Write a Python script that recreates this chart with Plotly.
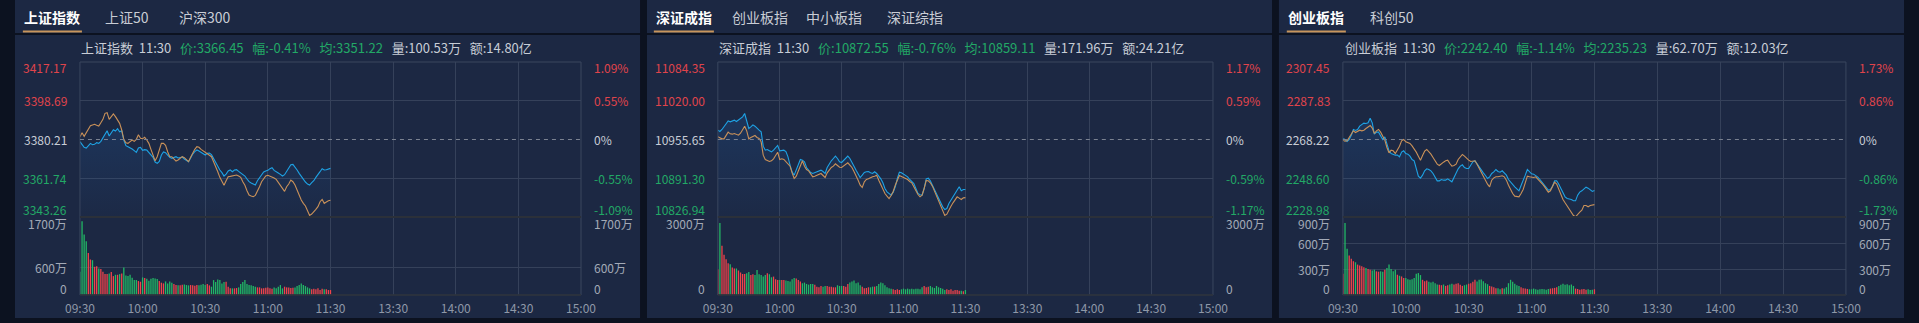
import plotly.graph_objects as go

W, H = 1919, 323
FONT = "Noto Sans CJK SC"

# ---------------- data ----------------
minutes = list(range(121))
time_ticks = [0, 30, 60, 90, 120, 150, 180, 210, 240]
time_labels = ["09:30", "10:00", "10:30", "11:00", "11:30", "13:30", "14:00", "14:30", "15:00"]

# 上证指数
sh_tabs = ["上证指数", "上证50", "沪深300"]
sh_prev_close = 3380.21
sh_price = [
    3379.18, 3378.06, 3376.47, 3376.15, 3377.43, 3378.38, 3377.74, 3377.90, 3378.70, 3378.38,
    3379.33, 3380.92, 3382.83, 3384.42, 3381.88, 3383.47, 3384.90, 3384.26, 3385.38, 3383.94,
    3384.42, 3379.97, 3377.27, 3376.79, 3376.31, 3375.68, 3374.88, 3374.09, 3376.15, 3376.47,
    3375.04, 3375.36, 3375.20, 3373.93, 3372.81, 3371.70, 3369.48, 3368.84, 3369.79, 3372.81,
    3374.25, 3373.93, 3372.81, 3371.70, 3371.22, 3371.70, 3372.02, 3371.38, 3371.70, 3371.86,
    3370.91, 3370.27, 3369.63, 3371.38, 3373.29, 3374.40, 3375.20, 3374.72, 3374.09, 3373.29,
    3372.81, 3373.61, 3373.77, 3372.97, 3371.07, 3369.16, 3367.57, 3365.66, 3364.39, 3362.80,
    3363.75, 3365.18, 3365.66, 3364.86, 3365.66, 3365.82, 3365.02, 3364.39, 3363.59, 3362.80,
    3361.37, 3360.09, 3359.46, 3358.98, 3358.50, 3360.57, 3362.16, 3363.75, 3364.71, 3365.18,
    3365.50, 3366.30, 3366.77, 3365.50, 3364.71, 3364.23, 3363.59, 3362.80, 3363.43, 3364.86,
    3366.30, 3368.20, 3368.36, 3367.25, 3365.66, 3364.07, 3362.48, 3360.89, 3359.94, 3358.98,
    3358.50, 3359.62, 3360.57, 3362.16, 3363.27, 3364.86, 3366.30, 3365.66, 3365.82, 3366.30,
    3366.45]
sh_avg = [
    3381.56, 3383.47, 3381.72, 3383.47, 3385.06, 3386.81, 3387.13, 3387.44, 3386.97, 3386.65,
    3388.24, 3389.83, 3392.69, 3393.01, 3389.83, 3391.10, 3392.37, 3391.10, 3389.51, 3387.92,
    3384.74, 3380.29, 3378.70, 3378.38, 3379.18, 3379.97, 3379.33, 3380.29, 3382.51, 3380.76,
    3380.61, 3381.24, 3379.97, 3378.38, 3375.52, 3372.81, 3370.11, 3372.02, 3375.20, 3378.38,
    3378.38, 3377.43, 3374.40, 3372.02, 3372.02, 3370.75, 3369.95, 3370.43, 3371.22, 3372.02,
    3371.54, 3370.43, 3369.63, 3371.70, 3373.93, 3375.52, 3376.79, 3376.47, 3375.52, 3374.88,
    3373.93, 3373.29, 3372.66, 3372.02, 3369.63, 3367.57, 3364.86, 3362.16, 3360.09, 3358.35,
    3360.57, 3362.48, 3362.64, 3362.80, 3362.96, 3363.27, 3362.80, 3362.16, 3360.09, 3358.35,
    3355.80, 3353.73, 3353.26, 3352.94, 3353.58, 3355.48, 3357.71, 3360.09, 3361.68, 3362.80,
    3363.12, 3362.80, 3362.48, 3361.84, 3361.21, 3359.62, 3358.50, 3356.91, 3355.48, 3357.71,
    3358.98, 3360.89, 3360.09, 3358.50, 3356.12, 3353.26, 3351.35, 3349.76, 3348.49, 3346.26,
    3344.04, 3344.67, 3345.63, 3346.90, 3348.17, 3350.55, 3351.67, 3349.76, 3350.40, 3351.03,
    3351.22]
sh_vol = [
    506, 1605, 1316, 1171, 918, 774, 759, 615, 629, 578,
    564, 506, 455, 455, 470, 499, 412, 441, 441, 455,
    470, 600, 427, 412, 441, 376, 325, 325, 304, 289,
    383, 369, 354, 311, 354, 369, 361, 347, 304, 268,
    253, 296, 253, 296, 268, 239, 217, 210, 210, 224,
    231, 217, 210, 217, 210, 202, 217, 210, 224, 239,
    217, 239, 210, 181, 325, 282, 340, 325, 253, 282,
    289, 181, 145, 145, 145, 152, 166, 239, 282, 325,
    239, 217, 210, 195, 181, 166, 166, 145, 145, 159,
    166, 145, 137, 166, 145, 181, 217, 145, 181, 166,
    166, 152, 159, 166, 195, 217, 253, 217, 195, 166,
    145, 123, 137, 123, 145, 108, 137, 123, 123, 108, 108]
sh_price_ticks = [3417.17, 3398.69, 3380.21, 3361.74, 3343.26]
sh_pct_labels = ["1.09%", "0.55%", "0%", "-0.55%", "-1.09%"]
sh_vol_ticks = [0, 600, 1700]
sh_vol_labels = ["0", "600万", "1700万"]
sh_info = ["上证指数", "11:30", "3366.45", "-0.41%", "3351.22", "100.53万", "14.80亿"]

# 深证成指
sz_tabs = ["深证成指", "创业板指", "中小板指", "深证综指"]
sz_prev_close = 10955.65
sz_price = [
    10971.15, 10968.94, 10972.26, 10977.79, 10983.33, 10986.65, 10984.99, 10986.10, 10987.76, 10985.54,
    10987.76, 10989.97, 10993.29, 10998.83, 10986.65, 10973.92, 10976.69, 10980.01, 10977.79, 10973.92,
    10971.15, 10968.38, 10944.58, 10937.93, 10939.04, 10936.83, 10935.17, 10937.93, 10942.36, 10945.69,
    10936.83, 10936.83, 10937.93, 10935.72, 10926.86, 10913.02, 10901.95, 10896.41, 10905.83, 10915.79,
    10922.43, 10921.33, 10918.56, 10909.15, 10904.72, 10900.84, 10899.18, 10900.29, 10901.95, 10903.06,
    10904.72, 10902.50, 10899.18, 10909.15, 10915.79, 10920.22, 10924.09, 10927.97, 10924.09, 10918.56,
    10917.45, 10921.33, 10925.76, 10927.97, 10924.09, 10918.56, 10911.36, 10904.72, 10898.08, 10892.54,
    10896.41, 10900.84, 10901.95, 10902.50, 10900.29, 10899.18, 10901.95, 10899.18, 10894.75, 10890.33,
    10883.68, 10874.27, 10868.73, 10865.97, 10863.20, 10868.18, 10877.04, 10890.88, 10901.40, 10900.29,
    10898.08, 10896.41, 10893.65, 10889.22, 10885.90, 10882.57, 10874.27, 10865.97, 10863.75, 10863.20,
    10874.27, 10890.33, 10891.43, 10887.00, 10879.81, 10872.61, 10865.97, 10859.32, 10850.47, 10843.82,
    10839.39, 10841.05, 10849.36, 10854.89, 10861.54, 10867.07, 10873.72, 10877.04, 10870.40, 10872.61,
    10872.55]
sz_avg = [
    10960.08, 10958.42, 10956.76, 10956.76, 10963.40, 10967.83, 10965.06, 10964.51, 10965.61, 10964.51,
    10962.85, 10966.17, 10971.15, 10977.79, 10970.04, 10956.76, 10958.97, 10961.19, 10962.29, 10958.97,
    10957.31, 10951.77, 10929.63, 10922.43, 10920.77, 10919.11, 10920.22, 10923.54, 10929.08, 10934.61,
    10922.43, 10923.54, 10922.43, 10919.11, 10915.24, 10911.36, 10900.29, 10890.88, 10894.75, 10903.61,
    10913.02, 10920.22, 10911.36, 10905.83, 10903.61, 10898.63, 10893.65, 10894.75, 10896.41, 10898.08,
    10899.18, 10895.86, 10892.54, 10900.29, 10905.83, 10909.15, 10911.36, 10915.24, 10912.47, 10909.70,
    10909.15, 10911.36, 10914.13, 10916.90, 10913.02, 10909.15, 10902.50, 10895.86, 10888.11, 10879.81,
    10875.93, 10885.34, 10889.22, 10890.33, 10892.54, 10893.65, 10894.75, 10896.41, 10888.11, 10879.81,
    10872.61, 10865.97, 10861.54, 10857.66, 10862.65, 10869.29, 10879.81, 10889.22, 10895.86, 10894.20,
    10892.54, 10891.43, 10889.22, 10885.90, 10883.68, 10877.04, 10870.40, 10864.31, 10860.43, 10863.20,
    10874.27, 10887.56, 10887.00, 10883.68, 10878.15, 10870.40, 10861.54, 10854.89, 10846.59, 10838.29,
    10829.43, 10831.64, 10839.39, 10844.93, 10850.47, 10856.00, 10860.43, 10858.22, 10856.00, 10858.77,
    10859.11]
sz_vol = [
    992, 2769, 1893, 1546, 1378, 1224, 1185, 1056, 1017, 1017,
    940, 863, 811, 811, 837, 889, 773, 798, 773, 966,
    798, 773, 708, 773, 837, 798, 683, 708, 605, 580,
    580, 580, 580, 554, 541, 515, 605, 657, 631, 580,
    515, 451, 477, 425, 399, 425, 425, 399, 322, 296,
    348, 322, 348, 348, 322, 322, 296, 296, 374, 348,
    348, 348, 322, 425, 477, 515, 554, 451, 477, 374,
    322, 258, 270, 296, 296, 322, 322, 348, 425, 477,
    451, 374, 296, 258, 245, 219, 193, 219, 193, 219,
    245, 219, 245, 219, 245, 219, 245, 245, 219, 296,
    348, 296, 322, 348, 296, 270, 348, 296, 270, 245,
    193, 219, 193, 219, 167, 193, 193, 167, 167, 142, 193]
sz_price_ticks = [11084.35, 11020.00, 10955.65, 10891.30, 10826.94]
sz_pct_labels = ["1.17%", "0.59%", "0%", "-0.59%", "-1.17%"]
sz_vol_ticks = [0, 3000]
sz_vol_labels = ["0", "3000万"]
sz_info = ["深证成指", "11:30", "10872.55", "-0.76%", "10859.11", "171.96万", "24.21亿"]

# 创业板指
cyb_tabs = ["创业板指", "科创50"]
cyb_prev_close = 2268.22
cyb_price = [
    2268.73, 2268.22, 2267.21, 2268.22, 2270.41, 2273.28, 2272.78, 2273.28, 2274.97, 2275.65,
    2276.49, 2276.32, 2276.66, 2279.02, 2276.66, 2270.92, 2271.93, 2271.93, 2269.91, 2268.22,
    2269.57, 2265.86, 2262.48, 2261.13, 2260.63, 2260.29, 2260.29, 2259.44, 2261.81, 2262.48,
    2261.13, 2260.79, 2259.78, 2258.09, 2257.42, 2253.54, 2249.66, 2248.64, 2250.16, 2252.36,
    2253.37, 2253.03, 2252.36, 2251.01, 2248.98, 2247.29, 2247.29, 2247.97, 2247.63, 2247.63,
    2248.31, 2247.63, 2246.79, 2248.98, 2251.68, 2253.37, 2254.72, 2255.39, 2254.04, 2253.54,
    2253.54, 2255.23, 2256.91, 2257.42, 2255.73, 2254.38, 2252.69, 2251.34, 2249.99, 2248.48,
    2249.32, 2251.01, 2251.85, 2253.03, 2252.02, 2251.68, 2252.36, 2251.34, 2250.16, 2247.97,
    2246.62, 2245.27, 2244.26, 2243.24, 2242.23, 2244.93, 2247.29, 2250.16, 2253.03, 2251.68,
    2250.84, 2250.67, 2249.99, 2249.15, 2247.97, 2246.62, 2244.93, 2243.58, 2242.57, 2242.91,
    2244.59, 2247.29, 2247.29, 2245.61, 2243.41, 2240.88, 2239.19, 2238.35, 2238.18, 2237.84,
    2237.17, 2237.17, 2240.04, 2241.56, 2242.23, 2243.24, 2244.09, 2243.58, 2242.57, 2241.90,
    2242.40]
cyb_avg = [
    2267.88, 2267.38, 2267.54, 2269.23, 2271.26, 2272.61, 2271.76, 2272.27, 2272.95, 2272.61,
    2272.95, 2273.79, 2274.63, 2275.31, 2273.96, 2271.26, 2272.61, 2273.28, 2271.93, 2269.91,
    2267.88, 2264.17, 2261.47, 2262.82, 2262.48, 2261.13, 2262.82, 2264.84, 2267.54, 2268.22,
    2267.04, 2266.70, 2266.19, 2265.01, 2263.66, 2261.81, 2259.78, 2257.76, 2260.12, 2262.31,
    2263.16, 2262.14, 2260.79, 2259.11, 2257.42, 2255.73, 2255.06, 2256.07, 2256.74, 2257.42,
    2257.76, 2256.07, 2254.72, 2255.06, 2255.73, 2258.09, 2259.44, 2260.63, 2259.78, 2258.60,
    2257.76, 2257.08, 2257.08, 2257.42, 2255.73, 2253.54, 2251.85, 2249.66, 2247.29, 2245.61,
    2244.26, 2247.63, 2248.81, 2249.32, 2249.32, 2249.66, 2249.83, 2249.32, 2247.63, 2245.10,
    2242.57, 2240.88, 2239.53, 2239.36, 2239.19, 2240.88, 2242.91, 2246.28, 2249.66, 2249.32,
    2248.98, 2248.98, 2249.32, 2248.31, 2247.29, 2245.94, 2244.59, 2243.24, 2241.56, 2242.23,
    2244.59, 2246.62, 2245.61, 2242.91, 2240.21, 2237.84, 2236.16, 2234.47, 2233.12, 2230.76,
    2229.74, 2229.07, 2230.42, 2231.43, 2232.44, 2234.81, 2234.81, 2234.13, 2234.81, 2235.14,
    2235.23]
cyb_vol = [
    245, 830, 534, 456, 417, 390, 378, 351, 339, 331,
    319, 312, 300, 292, 284, 292, 273, 269, 273, 269,
    292, 312, 351, 300, 273, 292, 234, 222, 214, 195,
    195, 183, 175, 183, 195, 245, 253, 230, 175, 160,
    168, 152, 144, 152, 136, 121, 117, 113, 121, 105,
    113, 121, 129, 121, 129, 136, 117, 105, 113, 121,
    129, 136, 152, 175, 156, 175, 180, 160, 136, 125,
    105, 97, 90, 78, 78, 66, 78, 74, 90, 136,
    175, 152, 129, 113, 105, 90, 78, 74, 70, 66,
    66, 74, 66, 62, 66, 70, 66, 62, 70, 74,
    78, 82, 90, 105, 117, 129, 117, 125, 113, 121,
    105, 74, 70, 62, 66, 70, 62, 66, 58, 62, 66]
cyb_price_ticks = [2307.45, 2287.83, 2268.22, 2248.60, 2228.98]
cyb_pct_labels = ["1.73%", "0.86%", "0%", "-0.86%", "-1.73%"]
cyb_vol_ticks = [0, 300, 600, 900]
cyb_vol_labels = ["0", "300万", "600万", "900万"]
cyb_info = ["创业板指", "11:30", "2242.40", "-1.14%", "2235.23", "62.70万", "12.03亿"]

# ---------------- style ----------------
BG_PAGE = "#0c1220"
BG_PANEL = "#1c2843"
GRID = "#35415a"
FRAME = "#3a465f"
SEP = "#2b3039"
DASH = "#7b8291"
BLUE = "#1ea2e4"
ORANGE = "#c99159"
RED_BAR = "#f0444b"
GREEN_BAR = "#22b866"
RED_TXT = "#e0444b"
GREEN_TXT = "#22a866"
GRAY_TXT = "#c8cdd6"
AXIS_TXT = "#a3aab7"
TIME_TXT = "#8f98a8"
TAB_TXT = "#c9cdd5"
UNDERLINE = "#c8955c"

panels = [
    dict(tabs=sh_tabs, prev=sh_prev_close, price=sh_price, avg=sh_avg, vol=sh_vol,
         pticks=sh_price_ticks, pct=sh_pct_labels, vticks=sh_vol_ticks, vlabels=sh_vol_labels, info=sh_info,
         panel=(0, 635), plot=(66, 575), tabx=[37.5, 114, 193.5], uline=(8, 68), infox=65),
    dict(tabs=sz_tabs, prev=sz_prev_close, price=sz_price, avg=sz_avg, vol=sz_vol,
         pticks=sz_price_ticks, pct=sz_pct_labels, vticks=sz_vol_ticks, vlabels=sz_vol_labels, info=sz_info,
         panel=(642, 1277), plot=(714, 1217), tabx=[679.5, 756.5, 832.5, 914.5], uline=(649, 710), infox=713),
    dict(tabs=cyb_tabs, prev=cyb_prev_close, price=cyb_price, avg=cyb_avg, vol=cyb_vol,
         pticks=cyb_price_ticks, pct=cyb_pct_labels, vticks=cyb_vol_ticks, vlabels=cyb_vol_labels, info=cyb_info,
         panel=(1284, 1919), plot=(1349, 1860), tabx=[1322, 1399], uline=(1292, 1352), infox=1349),
]

PRICE_TOP, PRICE_BOT, VOL_BOT = 62, 217, 295


def fx(px):
    return px / W


def fy(py):
    return 1 - py / H


fig = go.Figure()
shapes, annotations = [], []
layout_axes = {}

for i, p in enumerate(panels):
    kp, kv = 2 * i + 1, 2 * i + 2
    xp = "x" if kp == 1 else f"x{kp}"
    yp = "y" if kp == 1 else f"y{kp}"
    xv, yv = f"x{kv}", f"y{kv}"
    xname_p = "xaxis" if kp == 1 else f"xaxis{kp}"
    yname_p = "yaxis" if kp == 1 else f"yaxis{kp}"
    xname_v, yname_v = f"xaxis{kv}", f"yaxis{kv}"
    x0, x1 = p["plot"]
    dom_x = [fx(x0), fx(x1)]
    pmax, pmin = p["pticks"][0], p["pticks"][-1]

    layout_axes[xname_p] = dict(domain=dom_x, anchor=yp, range=[0, 240], tickvals=time_ticks,
                                showticklabels=False, showgrid=True, gridcolor=GRID, gridwidth=1,
                                zeroline=False, showline=False, ticks="", fixedrange=True)
    layout_axes[yname_p] = dict(domain=[fy(PRICE_BOT), fy(PRICE_TOP)], anchor=xp, range=[pmin, pmax],
                                tickvals=[p["pticks"][1], p["pticks"][3]], showticklabels=False,
                                showgrid=True, gridcolor=GRID, zeroline=False, showline=False,
                                ticks="", fixedrange=True)
    layout_axes[xname_v] = dict(domain=dom_x, anchor=yv, range=[0, 240], tickvals=time_ticks,
                                ticktext=time_labels, showticklabels=True,
                                tickfont=dict(family=FONT, size=12, color=TIME_TXT),
                                showgrid=True, gridcolor=GRID, zeroline=False, showline=False,
                                ticks="", ticklabelstandoff=5, fixedrange=True)
    layout_axes[yname_v] = dict(domain=[fy(VOL_BOT), fy(PRICE_BOT)], anchor=xv,
                                range=[0, p["vticks"][-1]], tickvals=p["vticks"][1:-1],
                                showticklabels=False, showgrid=True, gridcolor=GRID,
                                zeroline=False, showline=False, ticks="", fixedrange=True)

    # baseline for the area fill
    fig.add_trace(go.Scatter(x=[minutes[0], minutes[-1]], y=[pmin, pmin], mode="lines",
                             line=dict(width=0, color="rgba(0,0,0,0)"), xaxis=xp, yaxis=yp,
                             hoverinfo="skip", showlegend=False))
    fig.add_trace(go.Scatter(x=minutes, y=p["price"], mode="lines", xaxis=xp, yaxis=yp,
                             line=dict(color=BLUE, width=1.1), fill="tonexty",
                             fillgradient=dict(type="vertical",
                                               colorscale=[[0, "rgba(35,115,205,0.02)"],
                                                           [1, "rgba(35,115,205,0.26)"]],
                                               start=pmin, stop=pmax),
                             hoverinfo="skip", showlegend=False))
    fig.add_trace(go.Scatter(x=minutes, y=p["avg"], mode="lines", xaxis=xp, yaxis=yp,
                             line=dict(color=ORANGE, width=1.1), hoverinfo="skip", showlegend=False))

    # volume bars: red when price rose vs previous minute, green when it fell
    prevs = [p["prev"]] + p["price"][:-1]
    colors = [RED_BAR if c >= q else GREEN_BAR for c, q in zip(p["price"], prevs)]
    fig.add_trace(go.Bar(x=minutes, y=p["vol"], xaxis=xv, yaxis=yv, width=0.62,
                         marker=dict(color=colors, line=dict(width=0)),
                         hoverinfo="skip", showlegend=False))

    # panel backgrounds
    px0, px1 = p["panel"]
    shapes.append(dict(type="rect", xref="paper", yref="paper", x0=fx(px0), x1=fx(px1),
                       y0=fy(318), y1=fy(0), fillcolor=BG_PANEL, line=dict(width=0), layer="below"))
    shapes.append(dict(type="rect", xref="paper", yref="paper", x0=fx(px0), x1=fx(px1),
                       y0=fy(35), y1=fy(33), fillcolor=BG_PAGE, line=dict(width=0), layer="below"))
    # tab underline
    u0, u1 = p["uline"]
    shapes.append(dict(type="rect", xref="paper", yref="paper", x0=fx(u0), x1=fx(u1),
                       y0=fy(32.5), y1=fy(30.5), fillcolor=UNDERLINE, line=dict(width=0)))
    # frames
    shapes.append(dict(type="rect", xref="paper", yref="paper", x0=fx(x0), x1=fx(x1),
                       y0=fy(PRICE_BOT), y1=fy(PRICE_TOP), line=dict(color=FRAME, width=1)))
    shapes.append(dict(type="rect", xref="paper", yref="paper", x0=fx(x0), x1=fx(x1),
                       y0=fy(VOL_BOT), y1=fy(PRICE_BOT), line=dict(color=FRAME, width=1)))
    shapes.append(dict(type="line", xref="paper", yref="paper", x0=fx(x0), x1=fx(x1),
                       y0=fy(PRICE_BOT), y1=fy(PRICE_BOT), line=dict(color=SEP, width=2)))
    shapes.append(dict(type="line", xref="paper", yref="paper", x0=fx(x0), x1=fx(x1),
                       y0=fy(VOL_BOT), y1=fy(VOL_BOT), line=dict(color=SEP, width=1.5)))
    # previous close dashed line
    shapes.append(dict(type="line", xref=f"{xp} domain", yref=yp, x0=0, x1=1,
                       y0=p["prev"], y1=p["prev"], line=dict(color=DASH, width=1, dash="4px,4px")))

    # tabs
    for j, (t, cx) in enumerate(zip(p["tabs"], p["tabx"])):
        annotations.append(dict(text=f"<b>{t}</b>" if j == 0 else t, xref="paper", yref="paper",
                                x=fx(cx), y=fy(17), xanchor="center", yanchor="middle", showarrow=False,
                                font=dict(family=FONT, size=14, color="#ffffff" if j == 0 else TAB_TXT)))
    # info line
    nm, tm, pr, ch, av, vo, am = p["info"]
    sp = "\u00a0\u00a0\u00a0"
    info = (f"<span style='color:{GRAY_TXT}'>{nm}\u00a0\u00a0{tm}</span>{sp}"
            f"<span style='color:{GREEN_TXT}'>价:{pr}{sp}幅:{ch}{sp}均:{av}</span>{sp}"
            f"<span style='color:{GRAY_TXT}'>量:{vo}{sp}额:{am}</span>")
    annotations.append(dict(text=info, xref="paper", yref="paper", x=fx(p["infox"]), y=fy(47.5),
                            xanchor="left", yanchor="middle", showarrow=False,
                            font=dict(family=FONT, size=13, color=GRAY_TXT)))

    # price / percent labels
    n = len(p["pticks"])
    for j, (v, pc) in enumerate(zip(p["pticks"], p["pct"])):
        col = RED_TXT if j < 2 else (GRAY_TXT if j == 2 else GREEN_TXT)
        ys = -5 if j == 0 else (8 if j == n - 1 else 0)
        annotations.append(dict(text=f"{v:.2f}", xref=f"{xp} domain", yref=yp, x=0, y=v,
                                xanchor="right", yanchor="middle", xshift=-11, yshift=ys,
                                showarrow=False, font=dict(family=FONT, size=12, color=col)))
        annotations.append(dict(text=pc, xref=f"{xp} domain", yref=yp, x=1, y=v,
                                xanchor="left", yanchor="middle", xshift=11, yshift=ys,
                                showarrow=False, font=dict(family=FONT, size=12, color=col)))
    # volume labels
    nv = len(p["vticks"])
    for j, (v, lab) in enumerate(zip(p["vticks"], p["vlabels"])):
        ys = 7 if j == 0 else (-6.5 if j == nv - 1 else 0)
        for side in (0, 1):
            annotations.append(dict(text=lab, xref=f"{xv} domain", yref=yv, x=side, y=v,
                                    xanchor="right" if side == 0 else "left", yanchor="middle",
                                    xshift=-11 if side == 0 else 11, yshift=ys, showarrow=False,
                                    font=dict(family=FONT, size=12, color=AXIS_TXT)))

fig.update_layout(
    width=W, height=H, margin=dict(l=0, r=0, t=0, b=0),
    paper_bgcolor=BG_PAGE, plot_bgcolor="rgba(0,0,0,0)",
    showlegend=False, hovermode=False, bargap=0.4,
    font=dict(family=FONT, size=12, color=GRAY_TXT),
    shapes=shapes, annotations=annotations, **layout_axes,
)

fig.write_html("out.html", config={"displayModeBar": False, "staticPlot": True})
